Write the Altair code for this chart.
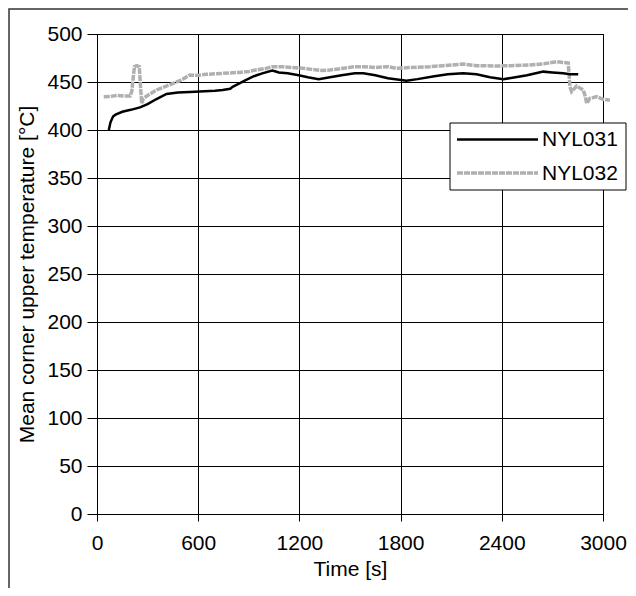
import altair as alt
import pandas as pd

series_names = ["NYL031", "NYL032"]

t_031 = [70, 80, 95, 110, 150, 200, 255, 300, 350, 412, 480, 550, 608, 700, 745, 790,
         804, 850, 882, 930, 980, 1039, 1060, 1078, 1130, 1196, 1250, 1314, 1381, 1450,
         1529, 1579, 1650, 1725, 1835, 1900, 2000, 2080, 2171, 2250, 2330, 2409, 2480,
         2550, 2646, 2700, 2764, 2803, 2853]
T_031 = [400, 408, 414, 416, 419, 421, 423.5, 427, 432, 437.5, 439, 439.5, 440, 441, 441.7, 443,
         445, 449, 452, 456, 459, 462, 461, 460, 459, 457, 455, 453, 455, 457,
         459, 459, 457, 454, 451.4, 453, 456, 458, 459, 458, 455, 452.8, 455,
         457, 460.8, 460, 459, 458, 458]

t_032 = [40, 80, 120, 160, 196, 206, 215, 222, 235, 251, 258, 265, 275, 300, 353, 400, 451,
         500, 549, 600, 650, 745, 843, 900, 941, 1000, 1039, 1100, 1160, 1235, 1333, 1381,
         1450, 1529, 1579, 1650, 1725, 1776, 1850, 1974, 2050, 2171, 2250, 2369, 2450, 2566,
         2650, 2725, 2794, 2804, 2814, 2830, 2843, 2870, 2883, 2895, 2903, 2912, 2922, 2962,
         3000, 3041]
T_032 = [434.7, 435, 436, 435.5, 435.4, 440, 455, 466, 467, 466, 445, 427.8, 433, 436, 441.7, 445, 448.6,
         452, 457.3, 457, 458, 459, 460, 461, 462.5, 464, 466, 466, 465, 464, 462, 462.5,
         464, 466, 466, 465, 466, 464.2, 465, 466, 467, 468.7, 467, 466.7, 467, 467.7,
         469, 471.2, 469.8, 445, 440, 443, 445.8, 443, 441.7, 435, 427.8, 430, 433, 434.7,
         432, 431]

x_ticks = [0, 600, 1200, 1800, 2400, 3000]
y_ticks = list(range(0, 501, 50))

df = pd.concat([
    pd.DataFrame({"t": t_031, "T": T_031, "series": series_names[0]}),
    pd.DataFrame({"t": t_032, "T": T_032, "series": series_names[1]}),
], ignore_index=True)

W, H = 506, 480
FONT = "Liberation Sans"
FS = 21

x_enc = alt.X("t:Q", scale=alt.Scale(domain=[0, 3000], nice=False, zero=False),
              axis=alt.Axis(values=x_ticks, title="Time [s]", tickSize=7, labelPadding=11,
                            titlePadding=5, format="d", labelFlush=False))
y_enc = alt.Y("T:Q", scale=alt.Scale(domain=[0, 500], nice=False),
              axis=alt.Axis(values=y_ticks, title="Mean corner upper temperature [°C]",
                            tickSize=10, labelPadding=5, titlePadding=9, labelFlush=False))

base = alt.Chart(df)

line_031 = base.transform_filter(alt.datum.series == series_names[0]).mark_line(
    color="#000000", strokeWidth=2.5, clip=False
).encode(x=x_enc, y=y_enc, order="t:Q")

line_032 = base.transform_filter(alt.datum.series == series_names[1]).mark_line(
    color="#b0b0b0", strokeWidth=3.5, strokeDash=[6, 1], clip=False
).encode(x=x_enc, y=y_enc, order="t:Q")

one = pd.DataFrame({"a": [0]})

frame = alt.Chart(one).mark_rect(filled=False, stroke="#333333", strokeWidth=1.5).encode(
    x=alt.value(-88), x2=alt.value(800), y=alt.value(-25), y2=alt.value(800)
)

leg_box = alt.Chart(one).mark_rect(fill="white", stroke="black", strokeWidth=1).encode(
    x=alt.value(353), x2=alt.value(529), y=alt.value(89), y2=alt.value(156)
)
leg_l1 = alt.Chart(one).mark_rule(color="black", strokeWidth=2.5).encode(
    x=alt.value(360), x2=alt.value(441), y=alt.value(105.5)
)
leg_l2 = alt.Chart(one).mark_rule(color="#b0b0b0", strokeWidth=3.5, strokeDash=[6, 1]).encode(
    x=alt.value(360), x2=alt.value(441), y=alt.value(139)
)
leg_t1 = alt.Chart(one).mark_text(align="left", baseline="middle", font=FONT, fontSize=FS,
                                  color="black", text=series_names[0]).encode(
    x=alt.value(445), y=alt.value(106)
)
leg_t2 = alt.Chart(one).mark_text(align="left", baseline="middle", font=FONT, fontSize=FS,
                                  color="black", text=series_names[1]).encode(
    x=alt.value(445), y=alt.value(139.5)
)

chart = alt.layer(frame, line_032, line_031, leg_box, leg_l1, leg_l2, leg_t1, leg_t2).properties(
    width=W, height=H,
    autosize=alt.AutoSizeParams(type="none"),
    padding={"left": 89, "top": 26, "right": 25, "bottom": 74},
).configure_view(
    stroke="black", strokeWidth=1
).configure_axis(
    labelFont=FONT, labelFontSize=FS, labelColor="black",
    titleFont=FONT, titleFontSize=FS, titleColor="black", titleFontWeight="normal",
    tickColor="black", domainColor="black", domainWidth=1, tickWidth=1,
    gridColor="black", gridWidth=1, gridOpacity=1, grid=True
)

chart.save("out.html", embed_options={"renderer": "svg", "actions": False})
